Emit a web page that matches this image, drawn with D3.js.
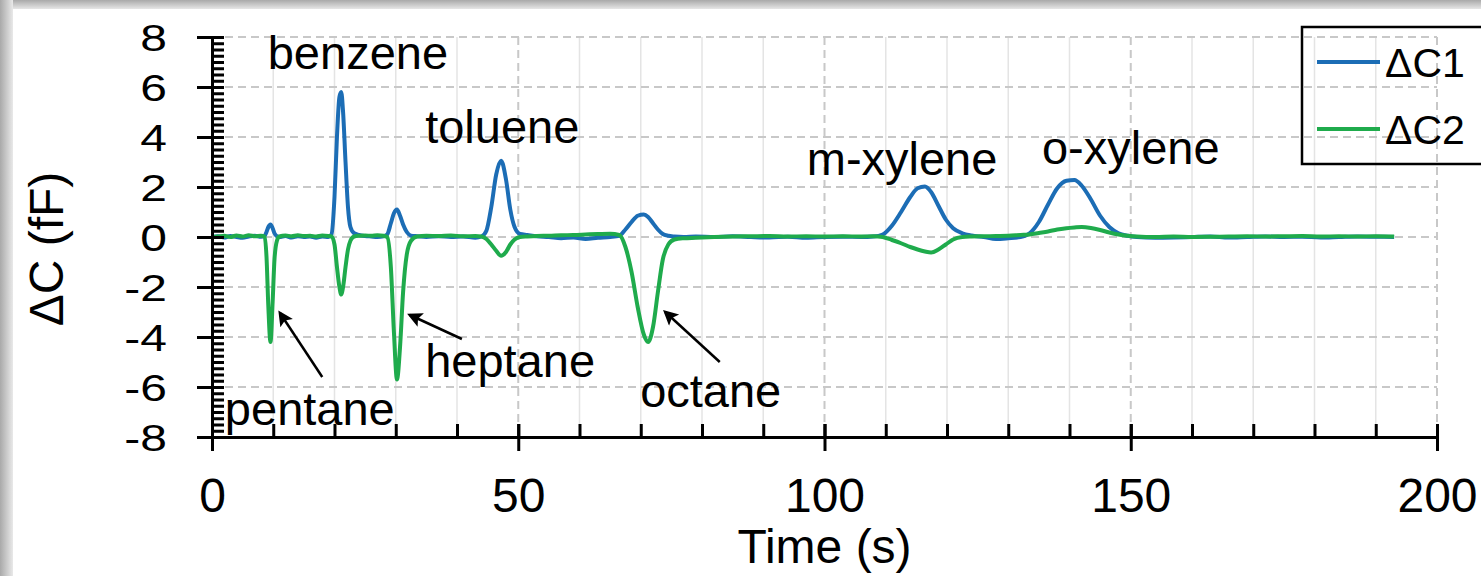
<!DOCTYPE html>
<meta charset="utf-8">
<style>
body { margin: 0; background: #fff; }
svg { display: block; font-family: "Liberation Sans", Arial, sans-serif; }
.grid-h line { stroke: #c8c8c8; stroke-width: 2; stroke-dasharray: 8,5; }
.grid-v line { stroke: #e4e4e4; stroke-width: 1.5; }
.grid-v line.major { stroke: #c8c8c8; stroke-width: 2; stroke-dasharray: 8,5; }
.axis path, .axis line { stroke: #000; stroke-width: 3; }
.axis text { fill: #000; font-size: 48px; font-family: "Liberation Sans", Arial, sans-serif; }
.trace { fill: none; stroke-width: 4; stroke-linejoin: round; }
.note { font-size: 47px; fill: #000; }
</style>
<svg width="1481" height="576"></svg>
<script src="https://cdn.jsdelivr.net/npm/d3@7"></script>
<script>

// time (s) and the two capacitance traces (fF)
var time = [0, 1, 2, 3, 4, 5, 6, 7, 8, 8.6, 8.9, 9.2, 9.55, 9.9, 10.2, 10.6, 11, 12, 13, 14, 15, 16, 17, 18, 19,
  19.5, 20, 20.4, 20.8, 21.1, 21.4, 21.8, 22.2, 22.6, 23.2, 24, 25, 26, 27, 28,
  28.6, 29.2, 29.7, 30.2, 30.7, 31.2, 31.8, 32.5, 33.5, 35, 37, 39, 41, 43, 44,
  44.8, 45.6, 46.4, 47.2, 48, 48.7, 49.4, 50.3, 51.5, 53, 55, 57, 59, 61, 63, 65,
  66.5, 67.5, 68.5, 69.5, 70.5, 71.2, 72, 72.8, 73.6, 74.5, 75.5, 77, 79, 82, 85, 88, 91, 94, 97, 100, 103, 106, 108,
  109.5, 111, 112.5, 114, 115.2, 116.4, 117.4, 118.6, 119.8, 121, 122.5, 124, 126, 128, 130, 132,
  133.5, 135, 136.5, 138, 139.5, 140.8, 142, 143.5, 145, 146.5, 148, 149.5, 151, 154, 157, 160, 163, 166, 169,
  172, 175, 178, 181, 184, 187, 190, 193];

var dc1 = [0, 0.03, -0.02, 0.04, 0, -0.03, 0.02, 0.05, 0.01, 0.05, 0.2, 0.4, 0.5, 0.35, 0.15, 0.03, 0, 0.04, -0.02, 0.03, 0, 0.02, -0.03, 0.02, 0,
  0.1, 1.6, 4.0, 5.6, 5.8, 5.0, 3.0, 1.2, 0.4, 0.15, 0.08, 0.04, 0.02, 0, 0.03,
  0.1, 0.55, 0.95, 1.1, 0.85, 0.5, 0.2, 0.05, 0.03, 0, 0.03, 0, 0.02, -0.03, 0.02,
  0.25, 1.2, 2.5, 3.05, 2.3, 1.1, 0.4, 0.12, 0.08, 0.03, 0, -0.05, -0.02, -0.08, -0.03, 0,
  0.05, 0.3, 0.6, 0.85, 0.9, 0.8, 0.55, 0.3, 0.12, 0.05, 0.02, 0, 0.02, 0, 0.03, 0, -0.02, 0.01, -0.03, 0, 0.01, 0, 0.02,
  0.1, 0.45, 1.0, 1.6, 1.95, 2.02, 1.8, 1.25, 0.7, 0.35, 0.15, 0.06, 0, -0.08, -0.05, 0,
  0.15, 0.6, 1.3, 1.95, 2.25, 2.28, 2.05, 1.5, 0.85, 0.4, 0.15, 0.05, 0, -0.03, -0.02, 0, 0.02, -0.02, 0,
  0.02, 0, 0.01, -0.02, 0, 0.02, 0.01, 0];

var dc2 = [0, 0.02, 0.05, 0, 0.06, 0.02, 0.07, 0.03, 0.05, 0.02, -0.8, -2.8, -4.2, -2.6, -0.9, -0.15, 0.02, 0.06, 0.03, 0.07, 0.04, 0.05, 0.02, 0.06, 0.04,
  0.02, -0.3, -1.2, -2.0, -2.3, -2.0, -1.2, -0.5, -0.15, 0.02, 0.05, 0.06, 0.05, 0.07, 0.05,
  0, -1.2, -3.8, -5.7, -4.4, -2.2, -0.7, -0.15, 0.02, 0.05, 0.04, 0.06, 0.03, 0.04, 0.02,
  -0.08, -0.3, -0.55, -0.75, -0.6, -0.3, -0.1, 0, 0.02, 0.04, 0.05, 0.07, 0.08, 0.1, 0.12, 0.13,
  0.08, -0.4, -1.4, -2.8, -3.9, -4.2, -3.6, -2.2, -0.9, -0.3, -0.1, -0.05, -0.03, 0, 0.02, 0.03, 0.04, 0.02, 0.03, 0.02, 0.03, 0.02, 0.03,
  0, -0.12, -0.25, -0.4, -0.5, -0.58, -0.62, -0.5, -0.3, -0.1, 0, 0.02, 0.03, 0.04, 0.05, 0.08,
  0.1, 0.16, 0.22, 0.3, 0.35, 0.38, 0.4, 0.36, 0.28, 0.18, 0.1, 0.05, 0.02, 0, 0.02, 0, 0.01, 0.02, 0.03,
  0.02, 0.03, 0.04, 0.02, 0.03, 0.02, 0.03, 0.02];

var seriesNames = ["\u0394C1", "\u0394C2"];
var seriesColors = ["#1c6db5", "#1fab4c"];

var xTicks = [0, 50, 100, 150, 200];
var yTicks = [-8, -6, -4, -2, 0, 2, 4, 6, 8];

// peak labels, anchored in data units (start of text, baseline)
var noteText = ["benzene", "toluene", "m-xylene", "o-xylene", "pentane", "heptane", "octane"];
var noteT = [9.1, 34.8, 97.1, 135.5, 2.1, 34.8, 69.9];
var noteV = [6.72, 3.76, 2.48, 2.92, -7.52, -5.6, -6.8];

// arrows: tail -> head in data units
var arrowFrom = [[18.0, -5.6], [40.8, -4.08], [82.9, -5.0]];
var arrowTo = [[11.1, -3.04], [32.3, -3.12], [74.0, -3.0]];

var svg = d3.select("svg"),
    width = +svg.attr("width"),
    height = +svg.attr("height");

// frame shadow along top and left
var defs = svg.append("defs");
var gTop = defs.append("linearGradient").attr("id", "shTop").attr("x1", 0).attr("y1", 0).attr("x2", 0).attr("y2", 1);
gTop.append("stop").attr("offset", "0%").attr("stop-color", "#a9a9a9");
gTop.append("stop").attr("offset", "100%").attr("stop-color", "#e6e6e6");
var gLeft = defs.append("linearGradient").attr("id", "shLeft").attr("x1", 0).attr("y1", 0).attr("x2", 1).attr("y2", 0);
gLeft.append("stop").attr("offset", "0%").attr("stop-color", "#a9a9a9");
gLeft.append("stop").attr("offset", "100%").attr("stop-color", "#e9e9e9");

svg.append("rect").attr("width", width).attr("height", height).attr("fill", "#fff");
svg.append("rect").attr("x", 0).attr("y", 0).attr("width", width).attr("height", 9).attr("fill", "url(#shTop)");
svg.append("rect").attr("x", 0).attr("y", 0).attr("width", 13).attr("height", height).attr("fill", "url(#shLeft)");

var x = d3.scaleLinear().domain([0, 200]).range([212, 1437]);
var y = d3.scaleLinear().domain([-8, 8]).range([437, 37]);

// grid
svg.append("g").attr("class", "grid-v")
  .selectAll("line")
  .data(d3.range(10, 201, 10))
  .enter().append("line")
    .attr("class", function(d) { return d % 50 === 0 ? "major" : null; })
    .attr("x1", function(d) { return x(d); })
    .attr("x2", function(d) { return x(d); })
    .attr("y1", y(8))
    .attr("y2", y(-8));

svg.append("g").attr("class", "grid-h")
  .selectAll("line")
  .data(yTicks)
  .enter().append("line")
    .attr("x1", x(0))
    .attr("x2", x(200))
    .attr("y1", function(d) { return y(d); })
    .attr("y2", function(d) { return y(d); });

// traces
var pts = time.map(function(t, i) { return { t: t, a: dc1[i], b: dc2[i] }; });
var lineA = d3.line().x(function(d) { return x(d.t); }).y(function(d) { return y(d.a); }).curve(d3.curveMonotoneX);
var lineB = d3.line().x(function(d) { return x(d.t); }).y(function(d) { return y(d.b); }).curve(d3.curveMonotoneX);

svg.append("path").attr("class", "trace").attr("stroke", seriesColors[0]).attr("d", lineA(pts));
svg.append("path").attr("class", "trace").attr("stroke", seriesColors[1]).attr("d", lineB(pts));

// axes: major ticks cross the line, minor ticks point inwards
svg.append("g").attr("class", "axis")
    .attr("transform", "translate(" + x(0) + ",0)")
    .call(d3.axisRight(y).tickValues(d3.range(-8, 8.01, 0.25)).tickSize(12).tickFormat(""))
    .select(".domain").remove();

var yAxis = svg.append("g").attr("class", "axis")
    .attr("transform", "translate(" + x(0) + ",0)")
    .call(d3.axisLeft(y).tickValues(yTicks).tickSize(15).tickSizeOuter(0).tickPadding(30)
      .tickFormat(function(d) { return String(d); }));
yAxis.selectAll(".tick line").attr("x2", -15).attr("x1", 12);
yAxis.selectAll("text").attr("transform", "scale(1,0.76)").attr("dy", "0.38em");

svg.append("g").attr("class", "axis")
    .attr("transform", "translate(0," + y(-8) + ")")
    .call(d3.axisTop(x).tickValues(d3.range(0, 201, 10)).tickSize(13).tickFormat(""))
    .select(".domain").remove();

var xAxis = svg.append("g").attr("class", "axis")
    .attr("transform", "translate(0," + y(-8) + ")")
    .call(d3.axisBottom(x).tickValues(xTicks).tickSize(14).tickSizeOuter(0).tickPadding(27)
      .tickFormat(function(d) { return String(d); }));
xAxis.selectAll(".tick line").attr("y1", -13);

// axis titles
svg.append("text")
    .attr("transform", "translate(63,249) rotate(-90)")
    .attr("text-anchor", "middle")
    .style("font-size", "48px")
    .text("\u0394C (fF)");

svg.append("text")
    .attr("x", x(100))
    .attr("y", 563)
    .attr("text-anchor", "middle")
    .style("font-size", "48px")
    .text("Time (s)");

// peak labels and arrows
svg.append("g").selectAll("text")
  .data(noteText)
  .enter().append("text")
    .attr("class", "note")
    .attr("x", function(d, i) { return x(noteT[i]); })
    .attr("y", function(d, i) { return y(noteV[i]); })
    .text(function(d) { return d; });

defs.append("marker")
    .attr("id", "head")
    .attr("viewBox", "0 0 10 10")
    .attr("refX", 8).attr("refY", 5)
    .attr("markerWidth", 8).attr("markerHeight", 6)
    .attr("markerUnits", "strokeWidth")
    .attr("orient", "auto")
  .append("path")
    .attr("d", "M0,0L10,5L0,10L2,5z")
    .attr("fill", "#000");

svg.append("g").selectAll("line")
  .data(arrowFrom)
  .enter().append("line")
    .attr("x1", function(d) { return x(d[0]); })
    .attr("y1", function(d) { return y(d[1]); })
    .attr("x2", function(d, i) { return x(arrowTo[i][0]); })
    .attr("y2", function(d, i) { return y(arrowTo[i][1]); })
    .attr("stroke", "#000")
    .attr("stroke-width", 2.5)
    .attr("marker-end", "url(#head)");

// legend (box runs off the right edge)
var legend = svg.append("g");
legend.append("rect")
    .attr("x", 1302).attr("y", 27)
    .attr("width", 200).attr("height", 137)
    .attr("fill", "none").attr("stroke", "#000").attr("stroke-width", 2.5);

seriesNames.forEach(function(name, i) {
  var ly = 62 + i * 67;
  legend.append("line")
      .attr("x1", 1317).attr("x2", 1380)
      .attr("y1", ly).attr("y2", ly)
      .attr("stroke", seriesColors[i]).attr("stroke-width", 4);
  legend.append("text")
      .attr("x", 1385).attr("y", ly + 15)
      .style("font-size", "41px")
      .text(name);
});

</script>
